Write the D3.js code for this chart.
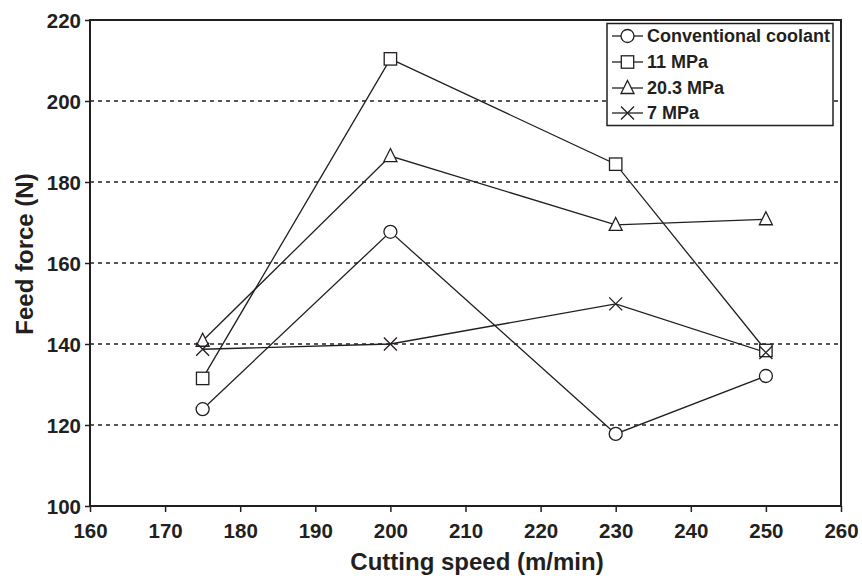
<!DOCTYPE html>
<html><head><meta charset="utf-8">
<script src="https://cdn.jsdelivr.net/npm/d3@7"></script>
<style>body{margin:0;background:#fff}svg{display:block}text{font-family:"Liberation Sans",Arial,sans-serif;font-weight:bold;fill:#231f20}</style>
</head><body><svg id="c" width="862" height="580"></svg>
<script>
const speeds = [175, 200, 230, 250];
const seriesNames = ["Conventional coolant", "11 MPa", "20.3 MPa", "7 MPa"];
const seriesShapes = ["circle", "square", "triangle", "cross"];
const conventional = [123.9, 167.7, 117.8, 132.1];
const mpa11 = [131.5, 210.4, 184.4, 138.4];
const mpa20 = [140.8, 186.4, 169.4, 170.8];
const mpa7 = [138.7, 140.0, 149.9, 137.9];
const xTicks = [160, 170, 180, 190, 200, 210, 220, 230, 240, 250, 260];
const yTicks = [100, 120, 140, 160, 180, 200, 220];
const gridValues = [120, 140, 160, 180, 200];

const seriesData = [conventional, mpa11, mpa20, mpa7];
const ink = "#231f20";
const svg = d3.select("#c");
const L = 90, R = 841, T = 20, B = 506;
const x = d3.scaleLinear().domain([160, 260]).range([L, R]);
const y = d3.scaleLinear().domain([100, 220]).range([B, T]);

// gridlines
svg.append("g").selectAll("line").data(gridValues).join("line")
  .attr("x1", L).attr("x2", R).attr("y1", d => y(d)).attr("y2", d => y(d))
  .attr("stroke", ink).attr("stroke-width", 1.4).attr("stroke-dasharray", "4,4");

// axes
const xAxis = svg.append("g").attr("transform", `translate(0,${B})`)
  .call(d3.axisBottom(x).tickValues(xTicks).tickSize(6).tickPadding(11).tickSizeOuter(0));
const yAxis = svg.append("g").attr("transform", `translate(${L},0)`)
  .call(d3.axisLeft(y).tickValues(yTicks).tickSize(5).tickPadding(4).tickSizeOuter(0));
[xAxis, yAxis].forEach(a => {
  a.select(".domain").remove();
  a.selectAll("line").attr("stroke", ink).attr("stroke-width", 1.5);
  a.selectAll("text").attr("font-size", 20.5).attr("fill", ink)
    .attr("font-family", '"Liberation Sans",Arial,sans-serif').attr("font-weight", "bold");
});
yAxis.selectAll("text").attr("dy", "0.36em");

// frame
svg.append("rect").attr("x", L).attr("y", T).attr("width", R - L).attr("height", B - T)
  .attr("fill", "none").attr("stroke", ink).attr("stroke-width", 2);

// axis titles
svg.append("text").attr("x", 477).attr("y", 570).attr("text-anchor", "middle")
  .attr("font-size", 24).text("Cutting speed (m/min)");
svg.append("text").attr("transform", "translate(33,254) rotate(-90)").attr("text-anchor", "middle")
  .attr("font-size", 24).text("Feed force (N)");

function marker(g, shape) {
  if (shape === "circle") g.append("circle").attr("r", 6.5);
  else if (shape === "square") g.append("rect").attr("x", -6.2).attr("y", -6.2).attr("width", 12.4).attr("height", 12.4);
  else if (shape === "triangle") g.append("path").attr("d", "M0,-7.5L6.5,5.5L-6.5,5.5Z");
  else if (shape === "cross") g.append("path").attr("d", "M-6.5,-6.5L6.5,6.5M-6.5,6.5L6.5,-6.5");
  g.selectAll("*").attr("fill", shape === "cross" ? "none" : "#fff").attr("stroke", ink).attr("stroke-width", 1.3);
}

const line = d3.line().x((d, i) => x(speeds[i])).y(d => y(d));
seriesData.forEach((vals, si) => {
  svg.append("path").attr("d", line(vals)).attr("fill", "none").attr("stroke", ink).attr("stroke-width", 1.3);
});
seriesData.forEach((vals, si) => {
  vals.forEach((v, i) => {
    const g = svg.append("g").attr("transform", `translate(${x(speeds[i])},${y(v)})`);
    marker(g, seriesShapes[si]);
  });
});

// legend
const lg = svg.append("g");
lg.append("rect").attr("x", 607).attr("y", 23.5).attr("width", 226).attr("height", 102)
  .attr("fill", "#fff").attr("stroke", ink).attr("stroke-width", 1.5);
const rowY = [36, 62, 88, 113];
seriesNames.forEach((n, i) => {
  lg.append("line").attr("x1", 612).attr("x2", 643).attr("y1", rowY[i]).attr("y2", rowY[i])
    .attr("stroke", ink).attr("stroke-width", 1.3);
  const g = lg.append("g").attr("transform", `translate(627.5,${rowY[i]})`);
  marker(g, seriesShapes[i]);
  lg.append("text").attr("x", 647).attr("y", rowY[i]).attr("dy", "0.36em").attr("font-size", 18).text(n);
});
</script></body></html>
